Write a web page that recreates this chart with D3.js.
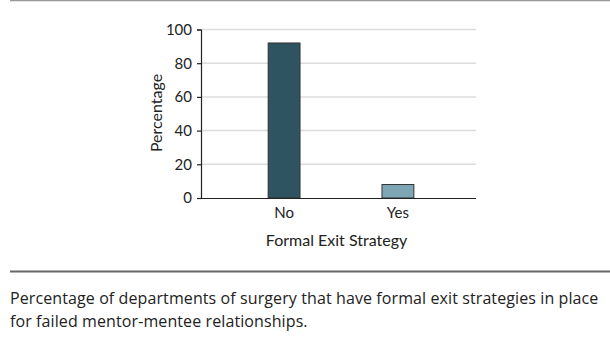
<!DOCTYPE html>
<html>
<head>
<meta charset="utf-8">
<script src="https://cdn.jsdelivr.net/npm/d3@7"></script>
<style>
  html, body { margin: 0; padding: 0; background: #fff; overflow: hidden; }
  svg { display: block; }
  svg text { font-family: Lato, "Open Sans", sans-serif; fill: #222; }
</style>
</head>
<body>
<div id="chart"></div>
<script>
// Chart data
const categories = ['No', 'Yes'];
const percentages = [92, 8];
const barColors = ['#2f5461', '#7fa6b5'];
const yTicks = [0, 20, 40, 60, 80, 100];
const xTitle = 'Formal Exit Strategy';
const yTitle = 'Percentage';
const captionLines = [
  'Percentage of departments of surgery that have formal exit strategies in place',
  'for failed mentor-mentee relationships.'
];

const width = 610;
const height = 337;
const margin = { top: 29.5, left: 201, right: 134, bottom: 139 };
const innerWidth = width - margin.left - margin.right;
const innerHeight = height - margin.top - margin.bottom;

const svg = d3.select('#chart')
  .append('svg')
  .attr('width', width)
  .attr('height', height);

// Top rule
svg.append('line')
  .attr('x1', 10).attr('x2', width)
  .attr('y1', 0.5).attr('y2', 0.5)
  .attr('stroke', '#999').attr('stroke-width', 1.5);

const g = svg.append('g')
  .attr('transform', `translate(${margin.left},${margin.top})`);

// Scales
const x = d3.scaleBand()
  .domain(categories)
  .range([0, innerWidth + 5])
  .paddingInner(0.72)
  .paddingOuter(0.59);

const y = d3.scaleLinear()
  .domain([0, 100])
  .range([innerHeight, 0]);

// Gridlines
g.append('g')
  .selectAll('line')
  .data(yTicks.filter(d => d > 0))
  .enter()
  .append('line')
  .attr('x1', 0).attr('x2', innerWidth)
  .attr('y1', d => y(d)).attr('y2', d => y(d))
  .attr('stroke', '#dcdcdc')
  .attr('stroke-width', 1.5);

// Y axis
const yAxis = g.append('g')
  .call(d3.axisLeft(y).tickValues(yTicks).tickSize(4).tickPadding(5));
yAxis.select('.domain').attr('stroke', '#222').attr('stroke-width', 1.2);
yAxis.selectAll('.tick line').attr('stroke', '#222').attr('stroke-width', 1.2);
yAxis.selectAll('text')
  .style('font-size', '15px')
  .attr('fill', '#222');

// Bars
g.selectAll('.bar')
  .data(percentages)
  .enter()
  .append('rect')
  .attr('class', 'bar')
  .attr('x', (d, i) => x(categories[i]))
  .attr('y', d => y(d))
  .attr('width', x.bandwidth())
  .attr('height', d => innerHeight - y(d))
  .attr('fill', (d, i) => barColors[i])
  .attr('stroke', '#333')
  .attr('stroke-width', 1);

// X axis
const xAxis = g.append('g')
  .attr('transform', `translate(0,${innerHeight})`)
  .call(d3.axisBottom(x).tickSize(0).tickPadding(9).tickSizeOuter(0));
xAxis.select('.domain')
  .attr('d', `M0,0.5H${innerWidth}`)
  .attr('stroke', '#222').attr('stroke-width', 1.2);
xAxis.selectAll('text')
  .style('font-size', '15px')
  .attr('fill', '#222');

// Axis titles
g.append('text')
  .attr('x', 135.5)
  .attr('y', innerHeight + 48)
  .attr('text-anchor', 'middle')
  .style('font-size', '16px')
  .text(xTitle);

g.append('text')
  .attr('transform', `translate(${157 - margin.left + 5},${113 - margin.top}) rotate(-90)`)
  .attr('text-anchor', 'middle')
  .style('font-size', '16px')
  .text(yTitle);

// Bottom rule
svg.append('line')
  .attr('x1', 10).attr('x2', width)
  .attr('y1', 271.5).attr('y2', 271.5)
  .attr('stroke', '#666').attr('stroke-width', 2);

// Caption
svg.append('g')
  .selectAll('text')
  .data(captionLines)
  .enter()
  .append('text')
  .attr('x', 10)
  .attr('y', (d, i) => 304 + i * 23)
  .style('font-family', '"Open Sans", sans-serif')
  .style('font-size', '16px')
  .style('letter-spacing', '0.1px')
  .text(d => d);
</script>
</body>
</html>
